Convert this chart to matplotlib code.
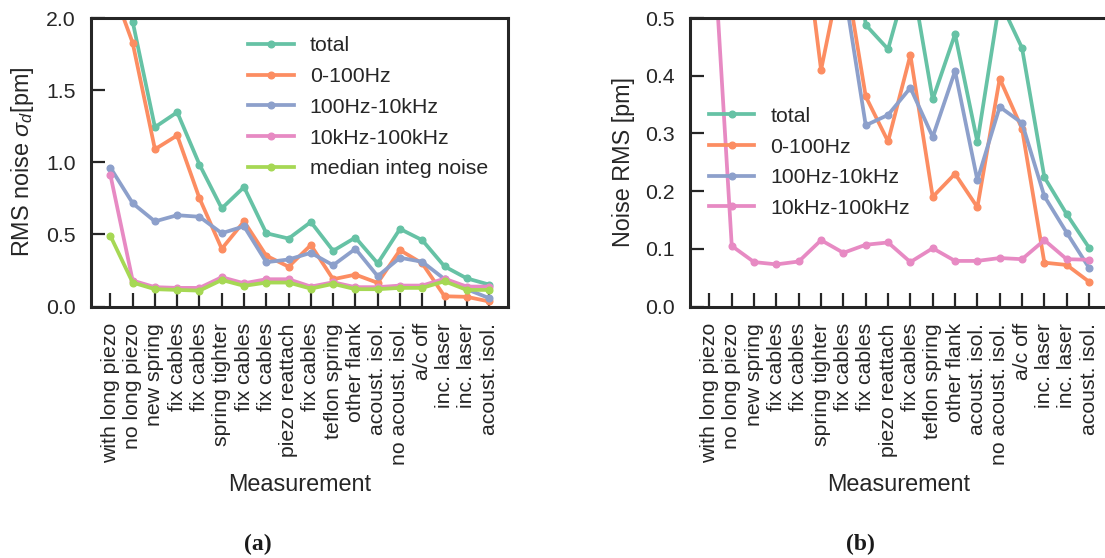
import matplotlib
matplotlib.use("Agg")
import matplotlib.pyplot as plt

plt.rcParams['font.family'] = ['Liberation Sans', 'DejaVu Sans']
plt.rcParams['mathtext.fontset'] = 'custom'
plt.rcParams['mathtext.rm'] = 'Liberation Sans'
plt.rcParams['mathtext.it'] = 'Liberation Sans:italic'

measurements = ["with long piezo", "no long piezo", "new spring", "fix cables", "fix cables",
                "spring tighter", "fix cables", "fix cables", "piezo reattach", "fix cables",
                "teflon spring", "other flank", "acoust. isol.", "no acoust. isol.", "a/c off",
                "inc. laser", "inc. laser", "acoust. isol."]

# Panel (a)
total_a = [2.35, 1.975, 1.243, 1.347, 0.984, 0.68, 0.828, 0.508, 0.471, 0.586, 0.386, 0.478,
           0.299, 0.538, 0.46, 0.278, 0.195, 0.152]
low_a = [2.25, 1.828, 1.09, 1.186, 0.75, 0.40, 0.59, 0.352, 0.276, 0.426, 0.189, 0.221,
         0.164, 0.391, 0.299, 0.071, 0.067, 0.035]
mid_a = [0.963, 0.716, 0.59, 0.633, 0.622, 0.508, 0.556, 0.307, 0.326, 0.372, 0.286, 0.40,
         0.21, 0.338, 0.31, 0.19, 0.12, 0.058]
high_a = [0.913, 0.18, 0.134, 0.129, 0.129, 0.203, 0.161, 0.189, 0.189, 0.138, 0.168, 0.134,
          0.134, 0.145, 0.145, 0.193, 0.138, 0.138]
median_a = [0.49, 0.166, 0.12, 0.115, 0.11, 0.184, 0.143, 0.166, 0.166, 0.124, 0.157, 0.12,
            0.12, 0.129, 0.129, 0.175, 0.115, 0.115]

# Panel (b)
total_b = [2.3, 1.95, 1.2, 1.3, 0.95, 0.65, 0.80, 0.488, 0.446, 0.584, 0.359, 0.472,
           0.285, 0.53, 0.448, 0.224, 0.160, 0.102]
low_b = [2.2, 1.8, 1.07, 1.17, 0.72, 0.41, 0.60, 0.364, 0.286, 0.436, 0.19, 0.23,
         0.172, 0.395, 0.308, 0.076, 0.072, 0.043]
mid_b = [0.95, 0.70, 0.58, 0.62, 0.61, 0.52, 0.56, 0.314, 0.332, 0.379, 0.294, 0.408,
         0.219, 0.346, 0.318, 0.191, 0.128, 0.067]
high_b = [0.75, 0.105, 0.077, 0.073, 0.078, 0.115, 0.093, 0.107, 0.111, 0.077, 0.101, 0.079,
          0.079, 0.084, 0.082, 0.115, 0.082, 0.081]

labels_a = ["total", "0-100Hz", "100Hz-10kHz", "10kHz-100kHz", "median integ noise"]
labels_b = ["total", "0-100Hz", "100Hz-10kHz", "10kHz-100kHz"]
colors = ["#66c2a5", "#fc8d62", "#8da0cb", "#e78ac3", "#a6d854"]

W, H = 1105, 558
fig = plt.figure(figsize=(W / 100, H / 100), dpi=100)

def box(l, r, t, b):
    return [l / W, 1 - b / H, (r - l) / W, (b - t) / H]

ax_a = fig.add_axes(box(91, 508, 18, 306.5))
ax_b = fig.add_axes(box(690, 1108, 18, 306.5))

x = list(range(len(measurements)))
dark = "#262626"

def style(ax, ylim, yticks, ylabel):
    for s in ax.spines.values():
        s.set_linewidth(2.2)
        s.set_color(dark)
    ax.set_xlim(-0.87, len(measurements) - 1 + 0.85)
    ax.set_ylim(*ylim)
    ax.set_yticks(yticks)
    ax.set_yticklabels([f"{v:.1f}" for v in yticks])
    ax.set_xticks(x)
    ax.set_xticklabels(measurements, rotation=90)
    ax.tick_params(direction='in', length=10, width=1.6, color=dark,
                   labelsize=15.3, labelcolor=dark)
    ax.tick_params(axis='y', pad=11)
    ax.tick_params(axis='x', pad=12)
    ax.set_xlabel("Measurement", fontsize=16.8, color=dark, labelpad=6)
    ax.set_ylabel(ylabel, fontsize=16.8, color=dark, labelpad=7)

series_a = [total_a, low_a, mid_a, high_a, median_a]
for vals, c, lab in zip(series_a, colors, labels_a):
    ax_a.plot(x, vals, color=c, lw=2.7, marker='o', ms=4.8, label=lab)
series_b = [total_b, low_b, mid_b, high_b]
for vals, c, lab in zip(series_b, colors, labels_b):
    ax_b.plot(x, vals, color=c, lw=2.7, marker='o', ms=4.8, label=lab)

style(ax_a, (0, 2.0), [0.0, 0.5, 1.0, 1.5, 2.0], r"RMS noise $\sigma_d$[pm]")
style(ax_b, (0, 0.5), [0.0, 0.1, 0.2, 0.3, 0.4, 0.5], "Noise RMS [pm]")

leg_kw = dict(frameon=False, fontsize=15.3, loc='upper left', borderpad=0,
              borderaxespad=0, handlelength=2.15, handletextpad=0.75,
              labelspacing=0.55, labelcolor=dark)
ax_a.legend(bbox_to_anchor=(0.3765, 0.936), **leg_kw)
ax_b.legend(bbox_to_anchor=(0.045, 0.692), **leg_kw)

fig.text(258 / W, 1 - 544 / H, "(a)", ha='center', va='center', fontsize=17,
         fontweight='bold', family='Liberation Serif', color='#1a1a1a')
fig.text(860 / W, 1 - 544 / H, "(b)", ha='center', va='center', fontsize=17,
         fontweight='bold', family='Liberation Serif', color='#1a1a1a')

fig.savefig("out.png", dpi=100)
